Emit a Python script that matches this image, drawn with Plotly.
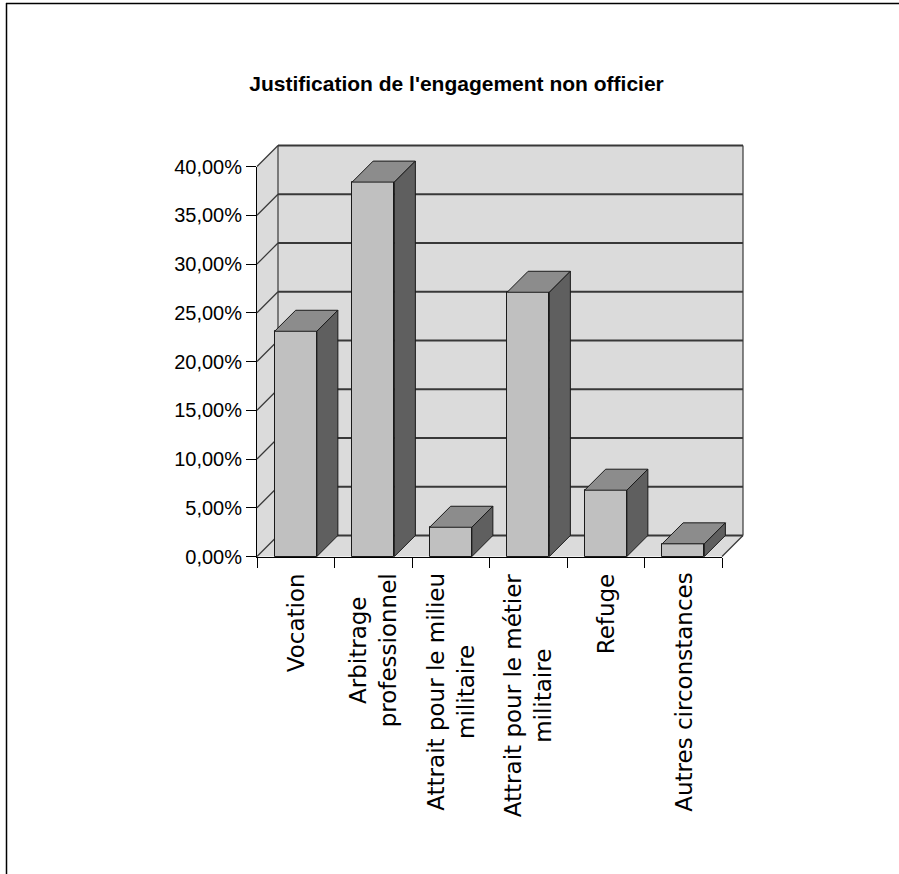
import plotly.graph_objects as go

# ---------------- data ----------------
categories = ["Vocation",
              "Arbitrage<br>professionnel",
              "Attrait pour le milieu<br>militaire",
              "Attrait pour le métier<br>militaire",
              "Refuge",
              "Autres circonstances"]
values = [0.231, 0.384, 0.030, 0.271, 0.068, 0.013]
y_ticks = [0.00, 0.05, 0.10, 0.15, 0.20, 0.25, 0.30, 0.35, 0.40]
title = "Justification de l'engagement non officier"

# ---------------- layout geometry (pixels) ----------------
W, H = 899, 874
ML, MR, MT, MB = 200, 120, 100, 280
PW = W - ML - MR
PH = H - MT - MB


def fx(px):
    return (px - ML) / PW


def fy(py):
    return (H - MB - py) / PH


FRONT_L, FRONT_R = 257, 722
FLOOR, TOP = 556.5, 166.5
DEPTH = 21
YMAX = y_ticks[-1]
n = len(categories)
px_cat = (FRONT_R - FRONT_L) / n
px_val = (FLOOR - TOP) / YMAX
ddx = DEPTH / px_cat
ddy = DEPTH / px_val
BAR_W = 0.545

x_lo, x_hi = -0.5, n - 0.5
X2_L, X2_R = 248, 754
Y2_B, Y2_T = 566, 136
x2_range = [x_lo - (FRONT_L - X2_L) / px_cat, x_lo + (X2_R - FRONT_L) / px_cat]
y2_range = [-(Y2_B - FLOOR) / px_val, (FLOOR - Y2_T) / px_val]

WALL = "#dbdbdb"
GRID = "#383838"
EDGE = "#1a1a1a"
FRONT = "#c0c0c0"
TOPC = "#8c8c8c"
SIDE = "#5f5f5f"

xs = list(range(n))

fig = go.Figure()

# front faces of the bars
fig.add_trace(go.Bar(
    x=xs, y=values, width=BAR_W, xaxis="x2", yaxis="y2",
    marker=dict(color=FRONT, line=dict(color=EDGE, width=1)),
    hoverinfo="skip", showlegend=False,
))

# top faces and side faces (3D effect) computed from values
top_x, top_y, side_x, side_y = [], [], [], []
for c, v in zip(xs, values):
    l, r = c - BAR_W / 2, c + BAR_W / 2
    top_x += [l, r, r + ddx, l + ddx, l, None]
    top_y += [v, v, v + ddy, v + ddy, v, None]
    side_x += [r, r + ddx, r + ddx, r, r, None]
    side_y += [0, ddy, v + ddy, v, 0, None]

fig.add_trace(go.Scatter(
    x=top_x, y=top_y, xaxis="x2", yaxis="y2", mode="lines",
    fill="toself", fillcolor=TOPC, line=dict(color=EDGE, width=1),
    hoverinfo="skip", showlegend=False,
))
fig.add_trace(go.Scatter(
    x=side_x, y=side_y, xaxis="x2", yaxis="y2", mode="lines",
    fill="toself", fillcolor=SIDE, line=dict(color=EDGE, width=1),
    hoverinfo="skip", showlegend=False,
))

shapes = []
sref = dict(xref="x2", yref="y2", layer="below")
# back wall
shapes.append(dict(type="rect", x0=x_lo + ddx, x1=x_hi + ddx, y0=ddy, y1=YMAX + ddy,
                   fillcolor=WALL, line=dict(width=0), **sref))
# left wall
shapes.append(dict(type="path",
                   path=f"M {x_lo},0 L {x_lo + ddx},{ddy} L {x_lo + ddx},{YMAX + ddy} L {x_lo},{YMAX} Z",
                   fillcolor=WALL, line=dict(width=0), **sref))
# floor
shapes.append(dict(type="path",
                   path=f"M {x_lo},0 L {x_hi},0 L {x_hi + ddx},{ddy} L {x_lo + ddx},{ddy} Z",
                   fillcolor=WALL, line=dict(width=0), **sref))
# gridlines on back wall + left wall diagonals
for t in y_ticks:
    shapes.append(dict(type="line", x0=x_lo + ddx, x1=x_hi + ddx, y0=t + ddy, y1=t + ddy,
                       line=dict(color=GRID, width=1.8), **sref))
    shapes.append(dict(type="line", x0=x_lo, x1=x_lo + ddx, y0=t, y1=t + ddy,
                       line=dict(color=GRID, width=1.2), **sref))
# wall edges
shapes.append(dict(type="line", x0=x_lo + ddx, x1=x_lo + ddx, y0=ddy, y1=YMAX + ddy,
                   line=dict(color=GRID, width=1.2), **sref))
shapes.append(dict(type="line", x0=x_hi + ddx, x1=x_hi + ddx, y0=ddy, y1=YMAX + ddy,
                   line=dict(color=GRID, width=1.2), **sref))
shapes.append(dict(type="line", x0=x_hi, x1=x_hi + ddx, y0=0, y1=ddy,
                   line=dict(color=GRID, width=1.2), **sref))

# outer chart border (top and left visible)
shapes.append(dict(type="line", xref="paper", yref="paper",
                   x0=fx(6), x1=fx(899), y0=fy(3.5), y1=fy(3.5),
                   line=dict(color="black", width=1.5), layer="above"))
shapes.append(dict(type="line", xref="paper", yref="paper",
                   x0=fx(6.5), x1=fx(6.5), y0=fy(3), y1=fy(874),
                   line=dict(color="black", width=1.5), layer="above"))

annotations = []
for i, c in enumerate(categories):
    annotations.append(dict(
        x=i, xref="x", y=fy(571), yref="paper", text=c, showarrow=False,
        textangle=-90, xanchor="center", yanchor="top", align="center",
        font=dict(family="DejaVu Sans", size=23, color="black"),
    ))

fig.update_layout(
    width=W, height=H,
    margin=dict(l=ML, r=MR, t=MT, b=MB),
    paper_bgcolor="white", plot_bgcolor="rgba(0,0,0,0)",
    separators=", ",
    title=dict(text=f"<b>{title}</b>", x=456.5 / W, xref="container", xanchor="center",
               y=1 - 84 / H, yref="container", yanchor="middle",
               font=dict(family="Liberation Sans", size=21, color="black")),
    showlegend=False,
    shapes=shapes,
    annotations=annotations,
    xaxis=dict(domain=[fx(FRONT_L), fx(FRONT_R)], range=[x_lo, x_hi], anchor="y",
               tickmode="array", tickvals=[x_lo + k for k in range(n + 1)],
               showticklabels=False, ticks="outside", ticklen=10, tickcolor="black",
               tickwidth=1, showline=True, linecolor="black", linewidth=1,
               showgrid=False, zeroline=False, fixedrange=True),
    yaxis=dict(domain=[fy(FLOOR), fy(TOP)], range=[0, YMAX], anchor="x",
               tickmode="array", tickvals=y_ticks, tickformat=".2%",
               ticks="outside", ticklen=10, tickcolor="black", tickwidth=1,
               showline=True, linecolor="black", linewidth=1,
               showgrid=False, zeroline=False, fixedrange=True,
               tickfont=dict(family="Liberation Sans", size=20, color="black")),
    xaxis2=dict(domain=[fx(X2_L), fx(X2_R)], range=x2_range, anchor="y2",
                visible=False, fixedrange=True),
    yaxis2=dict(domain=[fy(Y2_B), fy(Y2_T)], range=y2_range, anchor="x2",
                visible=False, fixedrange=True),
    bargap=0,
)

fig.write_html("out.html", config={"displayModeBar": False})
